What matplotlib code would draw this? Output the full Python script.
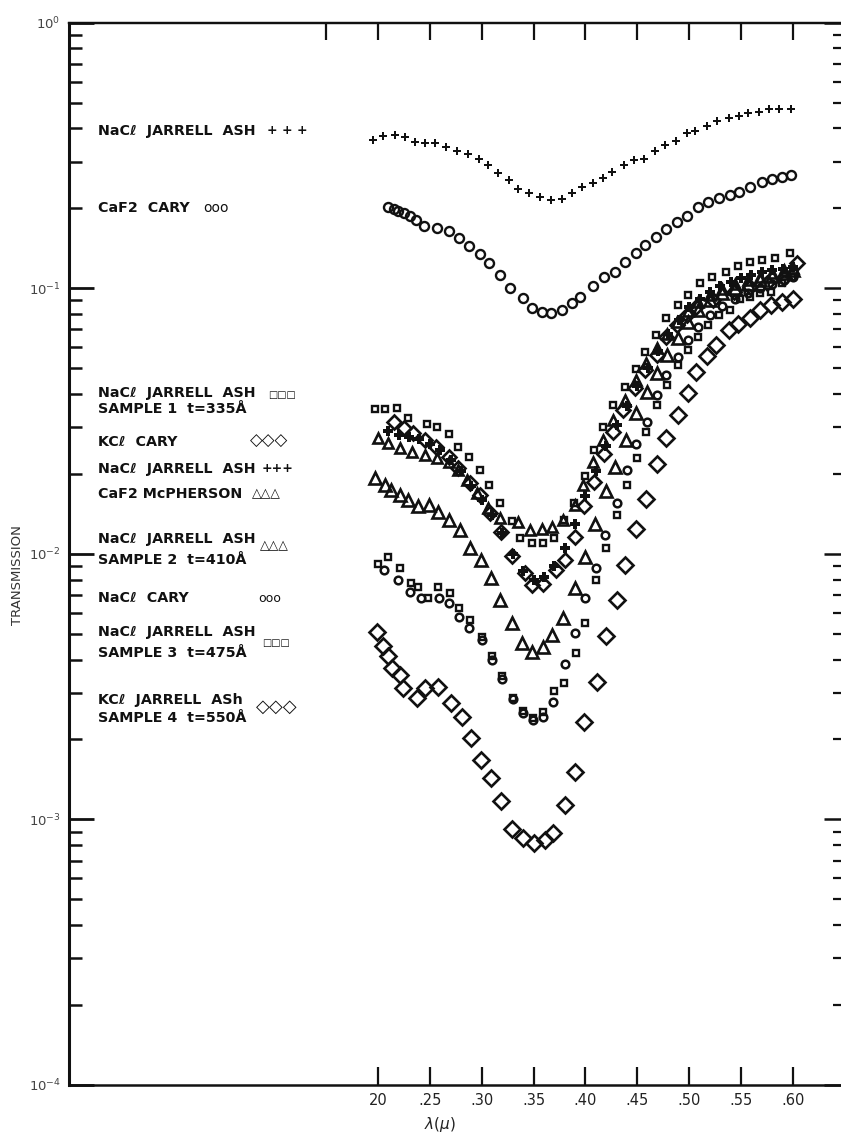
import numpy as np
import matplotlib
matplotlib.use("Agg")
import matplotlib.pyplot as plt
from matplotlib.ticker import LogLocator, NullFormatter

# ---------------- data (wavelength in micron, transmission) ----------------
nacl_ja_top_x = [0.195, 0.205, 0.216, 0.226, 0.236, 0.245, 0.255, 0.266, 0.276, 0.287,
                 0.297, 0.306, 0.316, 0.326, 0.335, 0.346, 0.356, 0.367, 0.377, 0.387,
                 0.397, 0.407, 0.417, 0.426, 0.437, 0.447, 0.456, 0.467, 0.477, 0.487,
                 0.498, 0.506, 0.517, 0.527, 0.538, 0.548, 0.557, 0.567, 0.577, 0.587, 0.598]
nacl_ja_top_y = [0.362, 0.375, 0.378, 0.371, 0.356, 0.352, 0.352, 0.341, 0.330, 0.320,
                 0.306, 0.291, 0.271, 0.256, 0.237, 0.228, 0.221, 0.215, 0.217, 0.228,
                 0.241, 0.250, 0.261, 0.273, 0.290, 0.304, 0.308, 0.330, 0.346, 0.359,
                 0.383, 0.391, 0.410, 0.428, 0.437, 0.445, 0.456, 0.462, 0.472, 0.472, 0.472]

caf2_cary_x = [0.210, 0.215, 0.219, 0.225, 0.231, 0.237, 0.244, 0.257, 0.268, 0.278,
               0.288, 0.298, 0.307, 0.318, 0.327, 0.340, 0.348, 0.358, 0.367, 0.377,
               0.387, 0.395, 0.407, 0.418, 0.428, 0.438, 0.449, 0.457, 0.468, 0.478,
               0.488, 0.498, 0.508, 0.518, 0.529, 0.539, 0.548, 0.559, 0.570, 0.580, 0.589, 0.598]
caf2_cary_y = [0.2023, 0.1989, 0.1954, 0.1921, 0.1872, 0.1808, 0.1716, 0.1682, 0.1647, 0.1550,
               0.1447, 0.1343, 0.1242, 0.1119, 0.1000, 0.0917, 0.0841, 0.0817, 0.0805, 0.0829,
               0.0882, 0.0929, 0.1023, 0.1106, 0.1155, 0.1253, 0.1361, 0.1455, 0.1564, 0.1668,
               0.1772, 0.1872, 0.2028, 0.2119, 0.2183, 0.2246, 0.2311, 0.2413, 0.2520, 0.2573,
               0.2617, 0.2670]

s1_x = [0.197, 0.207, 0.218, 0.229, 0.247, 0.257, 0.268, 0.277, 0.288, 0.298,
        0.307, 0.318, 0.329, 0.337, 0.348, 0.359, 0.370, 0.379, 0.389, 0.400,
        0.408, 0.417, 0.427, 0.438, 0.449, 0.457, 0.468, 0.478, 0.489, 0.499,
        0.510, 0.522, 0.535, 0.547, 0.559, 0.570, 0.583, 0.597]
s1_y = [3.51e-2, 3.51e-2, 3.53e-2, 3.24e-2, 3.08e-2, 3.01e-2, 2.82e-2, 2.53e-2, 2.32e-2, 2.07e-2,
        1.82e-2, 1.55e-2, 1.33e-2, 1.15e-2, 1.10e-2, 1.10e-2, 1.15e-2, 1.34e-2, 1.56e-2, 1.97e-2,
        2.45e-2, 3.01e-2, 3.64e-2, 4.24e-2, 4.97e-2, 5.76e-2, 6.67e-2, 7.73e-2, 8.65e-2, 9.43e-2,
        0.1047, 0.1103, 0.1151, 0.1213, 0.1256, 0.1278, 0.1300, 0.1358]

kcl_cary_x = [0.215, 0.225, 0.234, 0.245, 0.256, 0.268, 0.277, 0.289, 0.298, 0.308,
              0.319, 0.329, 0.342, 0.348, 0.359, 0.372, 0.380, 0.390, 0.399, 0.408,
              0.418, 0.427, 0.436, 0.448, 0.457, 0.469, 0.478, 0.488, 0.498, 0.507,
              0.523, 0.543, 0.559, 0.575, 0.591, 0.604]
kcl_cary_y = [3.14e-2, 2.98e-2, 2.85e-2, 2.68e-2, 2.53e-2, 2.32e-2, 2.11e-2, 1.85e-2, 1.67e-2, 1.42e-2,
              1.21e-2, 9.82e-3, 8.45e-3, 7.64e-3, 7.70e-3, 8.70e-3, 9.48e-3, 1.16e-2, 1.51e-2, 1.86e-2,
              2.38e-2, 2.88e-2, 3.48e-2, 4.20e-2, 4.93e-2, 5.61e-2, 6.57e-2, 7.27e-2, 7.93e-2, 8.52e-2,
              9.04e-2, 9.71e-2, 0.1014, 0.1044, 0.1091, 0.1242]

nacl_ja_mid_x = [0.210, 0.220, 0.230, 0.240, 0.250, 0.260, 0.270, 0.280, 0.290, 0.300,
                 0.310, 0.320, 0.330, 0.340, 0.350, 0.360, 0.370, 0.380, 0.390, 0.400,
                 0.410, 0.420, 0.430, 0.440, 0.450, 0.460, 0.470, 0.480, 0.490, 0.500,
                 0.510, 0.520, 0.530, 0.540, 0.550, 0.560, 0.570, 0.580, 0.590, 0.600]
nacl_ja_mid_y = [2.9e-2, 2.8e-2, 2.75e-2, 2.7e-2, 2.6e-2, 2.45e-2, 2.25e-2, 2.05e-2, 1.8e-2, 1.6e-2,
                 1.4e-2, 1.2e-2, 1.0e-2, 8.6e-3, 8.0e-3, 8.2e-3, 9.0e-3, 1.05e-2, 1.3e-2, 1.65e-2,
                 2.05e-2, 2.55e-2, 3.05e-2, 3.6e-2, 4.3e-2, 5.0e-2, 5.8e-2, 6.7e-2, 7.6e-2, 8.5e-2,
                 9.1e-2, 9.7e-2, 0.102, 0.106, 0.109, 0.112, 0.115, 0.117, 0.118, 0.120]

caf2_mcp_x = [0.200, 0.210, 0.221, 0.233, 0.245, 0.257, 0.268, 0.277, 0.286, 0.295,
              0.306, 0.318, 0.335, 0.347, 0.358, 0.368, 0.378, 0.390, 0.398, 0.407,
              0.417, 0.427, 0.438, 0.449, 0.458, 0.469, 0.479, 0.488, 0.499, 0.508,
              0.520, 0.532, 0.544, 0.557, 0.568, 0.580, 0.591, 0.600]
caf2_mcp_y = [2.73e-2, 2.62e-2, 2.51e-2, 2.42e-2, 2.36e-2, 2.30e-2, 2.22e-2, 2.07e-2, 1.90e-2, 1.70e-2,
              1.49e-2, 1.37e-2, 1.32e-2, 1.23e-2, 1.24e-2, 1.26e-2, 1.34e-2, 1.53e-2, 1.82e-2, 2.22e-2,
              2.68e-2, 3.19e-2, 3.80e-2, 4.52e-2, 5.23e-2, 5.96e-2, 6.73e-2, 7.47e-2, 8.21e-2, 8.88e-2,
              9.44e-2, 9.94e-2, 0.1038, 0.1074, 0.1103, 0.1142, 0.1172, 0.1192]

s2_x = [0.197, 0.207, 0.213, 0.221, 0.229, 0.239, 0.249, 0.258, 0.268, 0.279,
        0.289, 0.299, 0.309, 0.318, 0.329, 0.339, 0.348, 0.359, 0.368, 0.378,
        0.390, 0.400, 0.409, 0.420, 0.428, 0.439, 0.449, 0.459, 0.469, 0.479,
        0.489, 0.499, 0.508, 0.520, 0.532, 0.544, 0.557, 0.568, 0.580, 0.591, 0.600]
s2_y = [1.93e-2, 1.82e-2, 1.74e-2, 1.67e-2, 1.60e-2, 1.51e-2, 1.53e-2, 1.44e-2, 1.34e-2, 1.23e-2,
        1.05e-2, 9.48e-3, 8.09e-3, 6.71e-3, 5.48e-3, 4.61e-3, 4.28e-3, 4.45e-3, 4.95e-3, 5.72e-3,
        7.46e-3, 9.76e-3, 1.30e-2, 1.72e-2, 2.13e-2, 2.68e-2, 3.38e-2, 4.07e-2, 4.79e-2, 5.61e-2,
        6.50e-2, 7.47e-2, 8.29e-2, 9.04e-2, 9.60e-2, 0.1003, 0.1038, 0.1074, 0.1112, 0.1142, 0.1172]

nacl_cary_x = [0.206, 0.219, 0.231, 0.241, 0.259, 0.268, 0.278, 0.288, 0.300, 0.310,
               0.320, 0.330, 0.340, 0.349, 0.359, 0.369, 0.380, 0.390, 0.400, 0.410,
               0.419, 0.430, 0.440, 0.449, 0.459, 0.469, 0.478, 0.489, 0.499, 0.508,
               0.520, 0.532, 0.544, 0.557, 0.568, 0.580, 0.591, 0.600]
nacl_cary_y = [8.70e-3, 7.97e-3, 7.19e-3, 6.82e-3, 6.82e-3, 6.53e-3, 5.79e-3, 5.26e-3, 4.74e-3, 3.99e-3,
               3.38e-3, 2.84e-3, 2.52e-3, 2.37e-3, 2.43e-3, 2.77e-3, 3.85e-3, 5.04e-3, 6.82e-3, 8.85e-3,
               1.18e-2, 1.56e-2, 2.07e-2, 2.59e-2, 3.15e-2, 3.97e-2, 4.72e-2, 5.51e-2, 6.39e-2, 7.15e-2,
               7.93e-2, 8.58e-2, 9.11e-2, 9.60e-2, 0.1003, 0.1038, 0.1074, 0.1103]

s3_x = [0.200, 0.210, 0.221, 0.232, 0.239, 0.248, 0.258, 0.269, 0.278, 0.289,
        0.300, 0.310, 0.320, 0.330, 0.340, 0.349, 0.359, 0.370, 0.379, 0.391,
        0.400, 0.410, 0.420, 0.430, 0.440, 0.450, 0.458, 0.469, 0.479, 0.489,
        0.499, 0.508, 0.518, 0.529, 0.539, 0.549, 0.559, 0.568, 0.579, 0.589, 0.599]
s3_y = [9.16e-3, 9.73e-3, 8.85e-3, 7.77e-3, 7.51e-3, 6.82e-3, 7.51e-3, 7.13e-3, 6.26e-3, 5.64e-3,
        4.87e-3, 4.13e-3, 3.47e-3, 2.87e-3, 2.56e-3, 2.41e-3, 2.54e-3, 3.05e-3, 3.27e-3, 4.23e-3,
        5.49e-3, 7.97e-3, 1.05e-2, 1.40e-2, 1.82e-2, 2.30e-2, 2.88e-2, 3.64e-2, 4.32e-2, 5.14e-2,
        5.86e-2, 6.56e-2, 7.27e-2, 7.93e-2, 8.29e-2, 9.11e-2, 9.27e-2, 9.60e-2, 9.68e-2, 0.1047, 0.1103]

s4_x = [0.199, 0.205, 0.210, 0.214, 0.221, 0.224, 0.238, 0.245, 0.258, 0.270,
        0.281, 0.290, 0.299, 0.309, 0.319, 0.329, 0.340, 0.350, 0.361, 0.369,
        0.380, 0.390, 0.399, 0.411, 0.420, 0.430, 0.438, 0.449, 0.458, 0.469,
        0.478, 0.489, 0.499, 0.507, 0.517, 0.526, 0.538, 0.547, 0.559, 0.568,
        0.579, 0.589, 0.600]
s4_y = [5.09e-3, 4.50e-3, 4.13e-3, 3.71e-3, 3.50e-3, 3.12e-3, 2.86e-3, 3.12e-3, 3.16e-3, 2.75e-3,
        2.44e-3, 2.02e-3, 1.68e-3, 1.43e-3, 1.17e-3, 9.19e-4, 8.50e-4, 8.14e-4, 8.37e-4, 8.87e-4,
        1.13e-3, 1.51e-3, 2.33e-3, 3.30e-3, 4.91e-3, 6.71e-3, 9.08e-3, 1.24e-2, 1.61e-2, 2.18e-2,
        2.72e-2, 3.33e-2, 4.05e-2, 4.83e-2, 5.56e-2, 6.12e-2, 6.97e-2, 7.34e-2, 7.71e-2, 8.29e-2,
        8.65e-2, 8.90e-2, 9.09e-2]

x_ticks = [0.20, 0.25, 0.30, 0.35, 0.40, 0.45, 0.50, 0.55, 0.60]
x_tick_labels = ["20", ".25", ".30", ".35", ".40", ".45", ".50", ".55", ".60"]
top_ticks = [0.15, 0.20, 0.25, 0.30, 0.35, 0.40, 0.45, 0.50, 0.55, 0.60]
y_ticks = [1e-4, 1e-3, 1e-2, 1e-1, 1e0]
y_tick_labels = [r"$10^{-4}$", r"$10^{-3}$", r"$10^{-2}$", r"$10^{-1}$", r"$10^{0}$"]

# ---------------- figure ----------------
W, H = 841, 1138
fig = plt.figure(figsize=(W / 100, H / 100), dpi=100)
fig.patch.set_facecolor("white")
ax = fig.add_axes([69 / W, 1 - 1085 / H, (W - 69) / W, (1085 - 22.7) / H])
ax.set_yscale("log")
ax.set_xlim(-0.0978, 0.6463)
ax.set_ylim(1e-4, 1.0)

ink = "#111111"
open_kw = dict(linestyle="none", markerfacecolor="none", markeredgecolor=ink, clip_on=False)

ax.plot(nacl_ja_top_x, nacl_ja_top_y, linestyle="none", marker="P", markersize=6,
        color=ink, markeredgewidth=0)
ax.plot(caf2_cary_x, caf2_cary_y, marker="o", markersize=6.5, markeredgewidth=1.7, **open_kw)
ax.plot(s1_x, s1_y, marker="s", markersize=5, markeredgewidth=1.7, **open_kw)
ax.plot(kcl_cary_x, kcl_cary_y, marker="D", markersize=7.5, markeredgewidth=1.9, **open_kw)
ax.plot(nacl_ja_mid_x, nacl_ja_mid_y, linestyle="none", marker="P", markersize=6.5,
        color=ink, markeredgewidth=0)
ax.plot(caf2_mcp_x, caf2_mcp_y, marker="^", markersize=7.5, markeredgewidth=1.9, **open_kw)
ax.plot(s2_x, s2_y, marker="^", markersize=8, markeredgewidth=1.9, **open_kw)
ax.plot(nacl_cary_x, nacl_cary_y, marker="o", markersize=5.5, markeredgewidth=1.8, **open_kw)
ax.plot(s3_x, s3_y, marker="s", markersize=5, markeredgewidth=1.7, **open_kw)
ax.plot(s4_x, s4_y, marker="D", markersize=8.5, markeredgewidth=1.9, **open_kw)

# ---------------- axes styling ----------------
for side in ("left", "bottom", "top"):
    ax.spines[side].set_color(ink)
ax.spines["left"].set_linewidth(2.2)
ax.spines["bottom"].set_linewidth(1.8)
ax.spines["top"].set_linewidth(1.6)
ax.spines["right"].set_visible(False)

ax.set_xticks(x_ticks)
ax.set_xticklabels(x_tick_labels, fontsize=10.5, color="#222222")
ax.tick_params(axis="x", which="major", direction="in", length=13, width=1.6,
               top=False, pad=6, colors=ink, labelcolor="#222222")
ax.xaxis.set_minor_locator(plt.NullLocator())

ax.set_yticks(y_ticks)
ax.set_yticklabels(y_tick_labels, fontsize=9.5, color="#444444")
ax.yaxis.set_minor_locator(LogLocator(base=10, subs=np.arange(2, 10)))
ax.yaxis.set_minor_formatter(NullFormatter())
ax.tick_params(axis="y", which="major", direction="in", length=18, width=2, pad=6,
               colors=ink, labelcolor="#444444")
ax.tick_params(axis="y", which="minor", direction="in", length=9, width=1.8, colors=ink)

top = ax.secondary_xaxis("top")
top.set_xticks(top_ticks)
top.tick_params(direction="in", length=12, width=1.6, labeltop=False, colors=ink)
top.spines["top"].set_linewidth(1.6)

right = ax.secondary_yaxis("right")
right.set_yticks(y_ticks)
right.yaxis.set_minor_locator(LogLocator(base=10, subs=np.arange(2, 10)))
right.yaxis.set_minor_formatter(NullFormatter())
right.tick_params(which="major", direction="in", length=12, width=1.8, labelright=False, colors=ink)
right.tick_params(which="minor", direction="in", length=6, width=1.6, labelright=False, colors=ink)
right.spines["right"].set_visible(False)

fig.text(18 / W, 1 - 575 / H, "TRANSMISSION", rotation=90, ha="center", va="center",
         fontsize=9.5, color="#333333")
fig.text(440 / W, 1 - 1124 / H, r"$\lambda(\mu)$", ha="center", va="center",
         fontsize=11, color="#222222")

# ---------------- legend text ----------------
lab = dict(fontsize=10.3, fontweight="bold", color=ink, family="DejaVu Sans",
           ha="left", va="center")
sym = dict(color=ink, family="DejaVu Sans", ha="left", va="center")

def put(x, y, s, **kw):
    fig.text(x / W, 1 - y / H, s, **kw)

put(98, 131, "NaCℓ  JARRELL  ASH", **lab)
put(267, 131, "+ + +", fontsize=9, fontweight="bold", **sym)
put(98, 208, "CaF2  CARY", **lab)
put(203, 208, "ooo", fontsize=10, **sym)

put(98, 393, "NaCℓ  JARRELL  ASH", **lab)
put(98, 409, "SAMPLE 1  t=335Å", **lab)
put(268, 395, "□□□", fontsize=7, **sym)
put(98, 442, "KCℓ  CARY", **lab)
put(250, 441, "◇◇◇", fontsize=12, **sym)
put(98, 469, "NaCℓ  JARRELL  ASH", **lab)
put(262, 469, "+++", fontsize=9, fontweight="bold", **sym)
put(98, 494, "CaF2 McPHERSON", **lab)
put(252, 494, "△△△", fontsize=9, **sym)
put(98, 539, "NaCℓ  JARRELL  ASH", **lab)
put(98, 560, "SAMPLE 2  t=410Å", **lab)
put(260, 546, "△△△", fontsize=9, **sym)
put(98, 598, "NaCℓ  CARY", **lab)
put(258, 598, "ooo", fontsize=9, **sym)
put(98, 632, "NaCℓ  JARRELL  ASH", **lab)
put(98, 653, "SAMPLE 3  t=475Å", **lab)
put(262, 643, "□□□", fontsize=7, **sym)
put(98, 700, "KCℓ  JARRELL  ASh", **lab)
put(98, 718, "SAMPLE 4  t=550Å", **lab)
put(256, 707, "◇◇◇", fontsize=13, **sym)

fig.savefig("out.png", dpi=100, facecolor="white")
